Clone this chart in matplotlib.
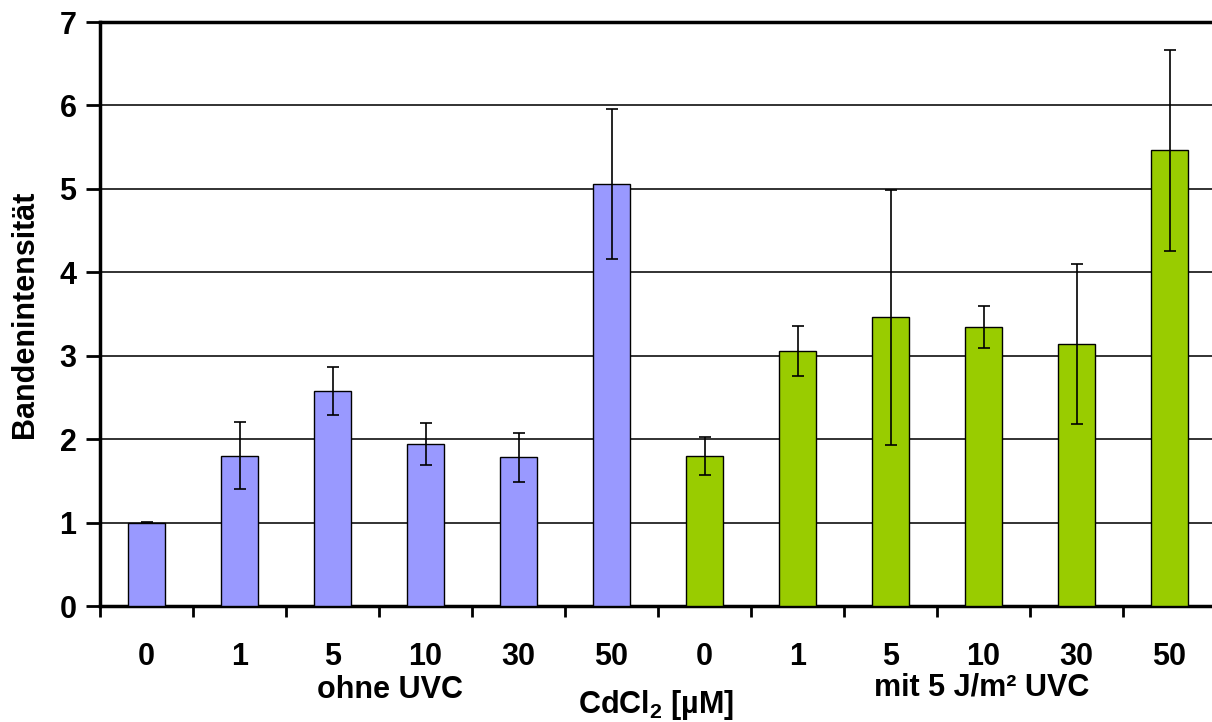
import matplotlib
matplotlib.use("Agg")
import matplotlib.pyplot as plt

plt.rcParams["font.family"] = ["Liberation Sans", "DejaVu Sans"]
plt.rcParams["font.weight"] = "bold"
plt.rcParams["mathtext.fontset"] = "custom"
plt.rcParams["mathtext.rm"] = "Liberation Sans:bold"
plt.rcParams["mathtext.bf"] = "Liberation Sans:bold"

# CdCl2-Konzentrationen (µM), je Gruppe
doses = ["0", "1", "5", "10", "30", "50"]
ohne_uvc = [1.00, 1.80, 2.58, 1.94, 1.78, 5.06]
ohne_uvc_err = [0.01, 0.40, 0.29, 0.25, 0.29, 0.90]
mit_uvc = [1.80, 3.06, 3.46, 3.34, 3.14, 5.46]
mit_uvc_err = [0.23, 0.30, 1.53, 0.25, 0.96, 1.20]

fig = plt.figure(figsize=(12.12, 7.22), dpi=100)
ax = fig.add_axes([100 / 1212, 116 / 722, 1116 / 1212, 584 / 722])

n = len(doses)
x1 = list(range(n))
x2 = [i + n for i in range(n)]
err_kw = dict(ecolor="black", elinewidth=1.2, capsize=4.5, capthick=1.2)
ax.bar(x1, ohne_uvc, width=0.4, color="#9999FF", edgecolor="black",
       linewidth=1, yerr=ohne_uvc_err, error_kw=err_kw, zorder=3)
ax.bar(x2, mit_uvc, width=0.4, color="#99CC00", edgecolor="black",
       linewidth=1, yerr=mit_uvc_err, error_kw=err_kw, zorder=3)

ax.set_xlim(-0.5, 2 * n - 0.5)
ax.set_ylim(0, 7)
ax.set_yticks(range(8))
ax.yaxis.grid(True, color="#222222", linewidth=1.3, zorder=0)
ax.set_axisbelow(True)

ax.set_xticks([i - 0.5 for i in range(2 * n)])
ax.set_xticklabels([])
ax.set_xticks(x1 + x2, minor=True)
ax.set_xticklabels(doses + doses, minor=True)
ax.tick_params(axis="x", which="major", length=8, width=2, direction="out")
ax.tick_params(axis="x", which="minor", length=0, pad=26, labelsize=22)
ax.tick_params(axis="y", length=10, width=2, labelsize=22, pad=7)

for side in ["left", "bottom"]:
    ax.spines[side].set_linewidth(2.5)
ax.spines["top"].set_linewidth(2.5)
ax.spines["right"].set_visible(False)

ax.set_ylabel("Bandenintensität", fontsize=22, fontweight="bold")
ax.yaxis.set_label_coords(-0.054, 0.5)

fig.text(390 / 1212, 1 - 690 / 722, "ohne UVC", ha="center", va="center",
         fontsize=22, fontweight="bold")
fig.text(982 / 1212, 1 - 688 / 722, "mit 5 J/m² UVC", ha="center", va="center",
         fontsize=22, fontweight="bold")
fig.text(656 / 1212, 1 - 705 / 722, r"CdCl$_{2}$ [µM]", ha="center", va="center",
         fontsize=22, fontweight="bold")

fig.savefig("out.png", dpi=100)
